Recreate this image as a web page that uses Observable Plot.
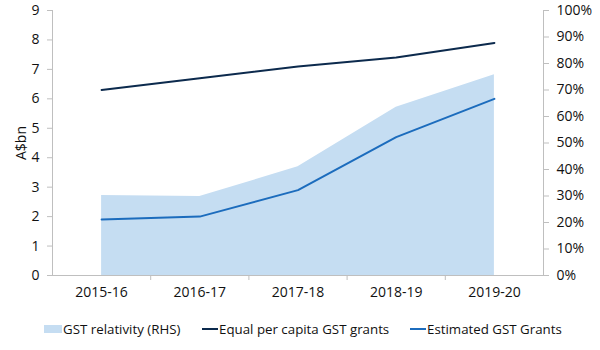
<!DOCTYPE html>
<html><head><meta charset="utf-8">
<script src="https://cdn.jsdelivr.net/npm/d3@7"></script>
<script src="https://cdn.jsdelivr.net/npm/@observablehq/plot@0.6"></script>
<style>
body{margin:0;background:#fff;font-family:"Open Sans",sans-serif;}
#legend{position:relative;height:20px;margin-top:14px;font-size:13.3px;line-height:20px;color:#111;white-space:nowrap;}
.item{position:absolute;top:0;display:flex;align-items:center;}
.sw{display:inline-block;margin-right:1px;}
</style></head><body><div id="chart"></div>
<div id="legend"></div>
<script>
const years = ["2015-16","2016-17","2017-18","2018-19","2019-20"];
const equalPerCapita = [6.3,6.7,7.1,7.4,7.9];
const estimatedGrants = [1.9,2.0,2.9,4.7,6.0];
const relativity = [30.2,29.8,41.0,63.5,75.8];
const leftTicks = [0,1,2,3,4,5,6,7,8,9];
const rightTicks = [0,10,20,30,40,50,60,70,80,90,100];
const seriesNames = ["GST relativity (RHS)","Equal per capita GST grants","Estimated GST Grants"];
const colors = ["#c5ddf2","#0c2a4d","#1c6cbd"];

const yMax = 9;
const pct = p => p * yMax / 100;
const data = years.map((y,i)=>({i, year:y, eq:equalPerCapita[i], est:estimatedGrants[i], rel:relativity[i]}));
const n = years.length;
const grey = "#bfbfbf";

const chart = Plot.plot({
  width:600, height:305,
  marginLeft:52, marginRight:57, marginTop:10, marginBottom:30,
  style:{fontFamily:"'Open Sans',sans-serif", fontSize:"14px", color:"#111", background:"#fff"},
  x:{type:"linear", domain:[-0.5, n-0.5]},
  y:{domain:[0,yMax]},
  marks:[
    Plot.areaY(data,{x:"i", y:d=>pct(d.rel), fill:colors[0]}),
    Plot.lineY(data,{x:"i", y:"eq", stroke:colors[1], strokeWidth:2}),
    Plot.lineY(data,{x:"i", y:"est", stroke:colors[2], strokeWidth:2}),
    Plot.frame({anchor:"left", stroke:grey}),
    Plot.frame({anchor:"right", stroke:grey}),
    Plot.frame({anchor:"bottom", stroke:grey}),
    Plot.axisY({anchor:"left", ticks:leftTicks, tickSize:5, tickPadding:8, stroke:grey, fill:"#111",
      label:"A$bn", labelAnchor:"center", labelArrow:"none", labelOffset:36}),
    Plot.axisY({anchor:"right", ticks:rightTicks.map(pct), tickFormat:d=>Math.round(d*100/yMax)+"%",
      tickSize:5, tickPadding:8, stroke:grey, fill:"#111", label:null}),
    Plot.axisX({ticks:d3.range(n), tickFormat:i=>years[i], tickSize:0, tickPadding:12, label:null, fill:"#111"}),
    Plot.axisX({ticks:d3.range(1,n).map(i=>i-0.5), tickFormat:()=>"", tickSize:5, stroke:grey, label:null})
  ]
});
document.getElementById("chart").append(chart);

const legend = document.getElementById("legend");
const legendLeft = [44, 202, 410];
seriesNames.forEach((name,k)=>{
  const it = document.createElement("span"); it.className="item";
  it.style.left = legendLeft[k] + "px";
  const sw = document.createElement("span"); sw.className="sw";
  if(k===0){ sw.style.width="18px"; sw.style.height="8px"; sw.style.background=colors[0]; }
  else { sw.style.width="16px"; sw.style.height="2px"; sw.style.background=colors[k]; }
  it.append(sw, document.createTextNode(name));
  legend.append(it);
});
</script></body></html>
